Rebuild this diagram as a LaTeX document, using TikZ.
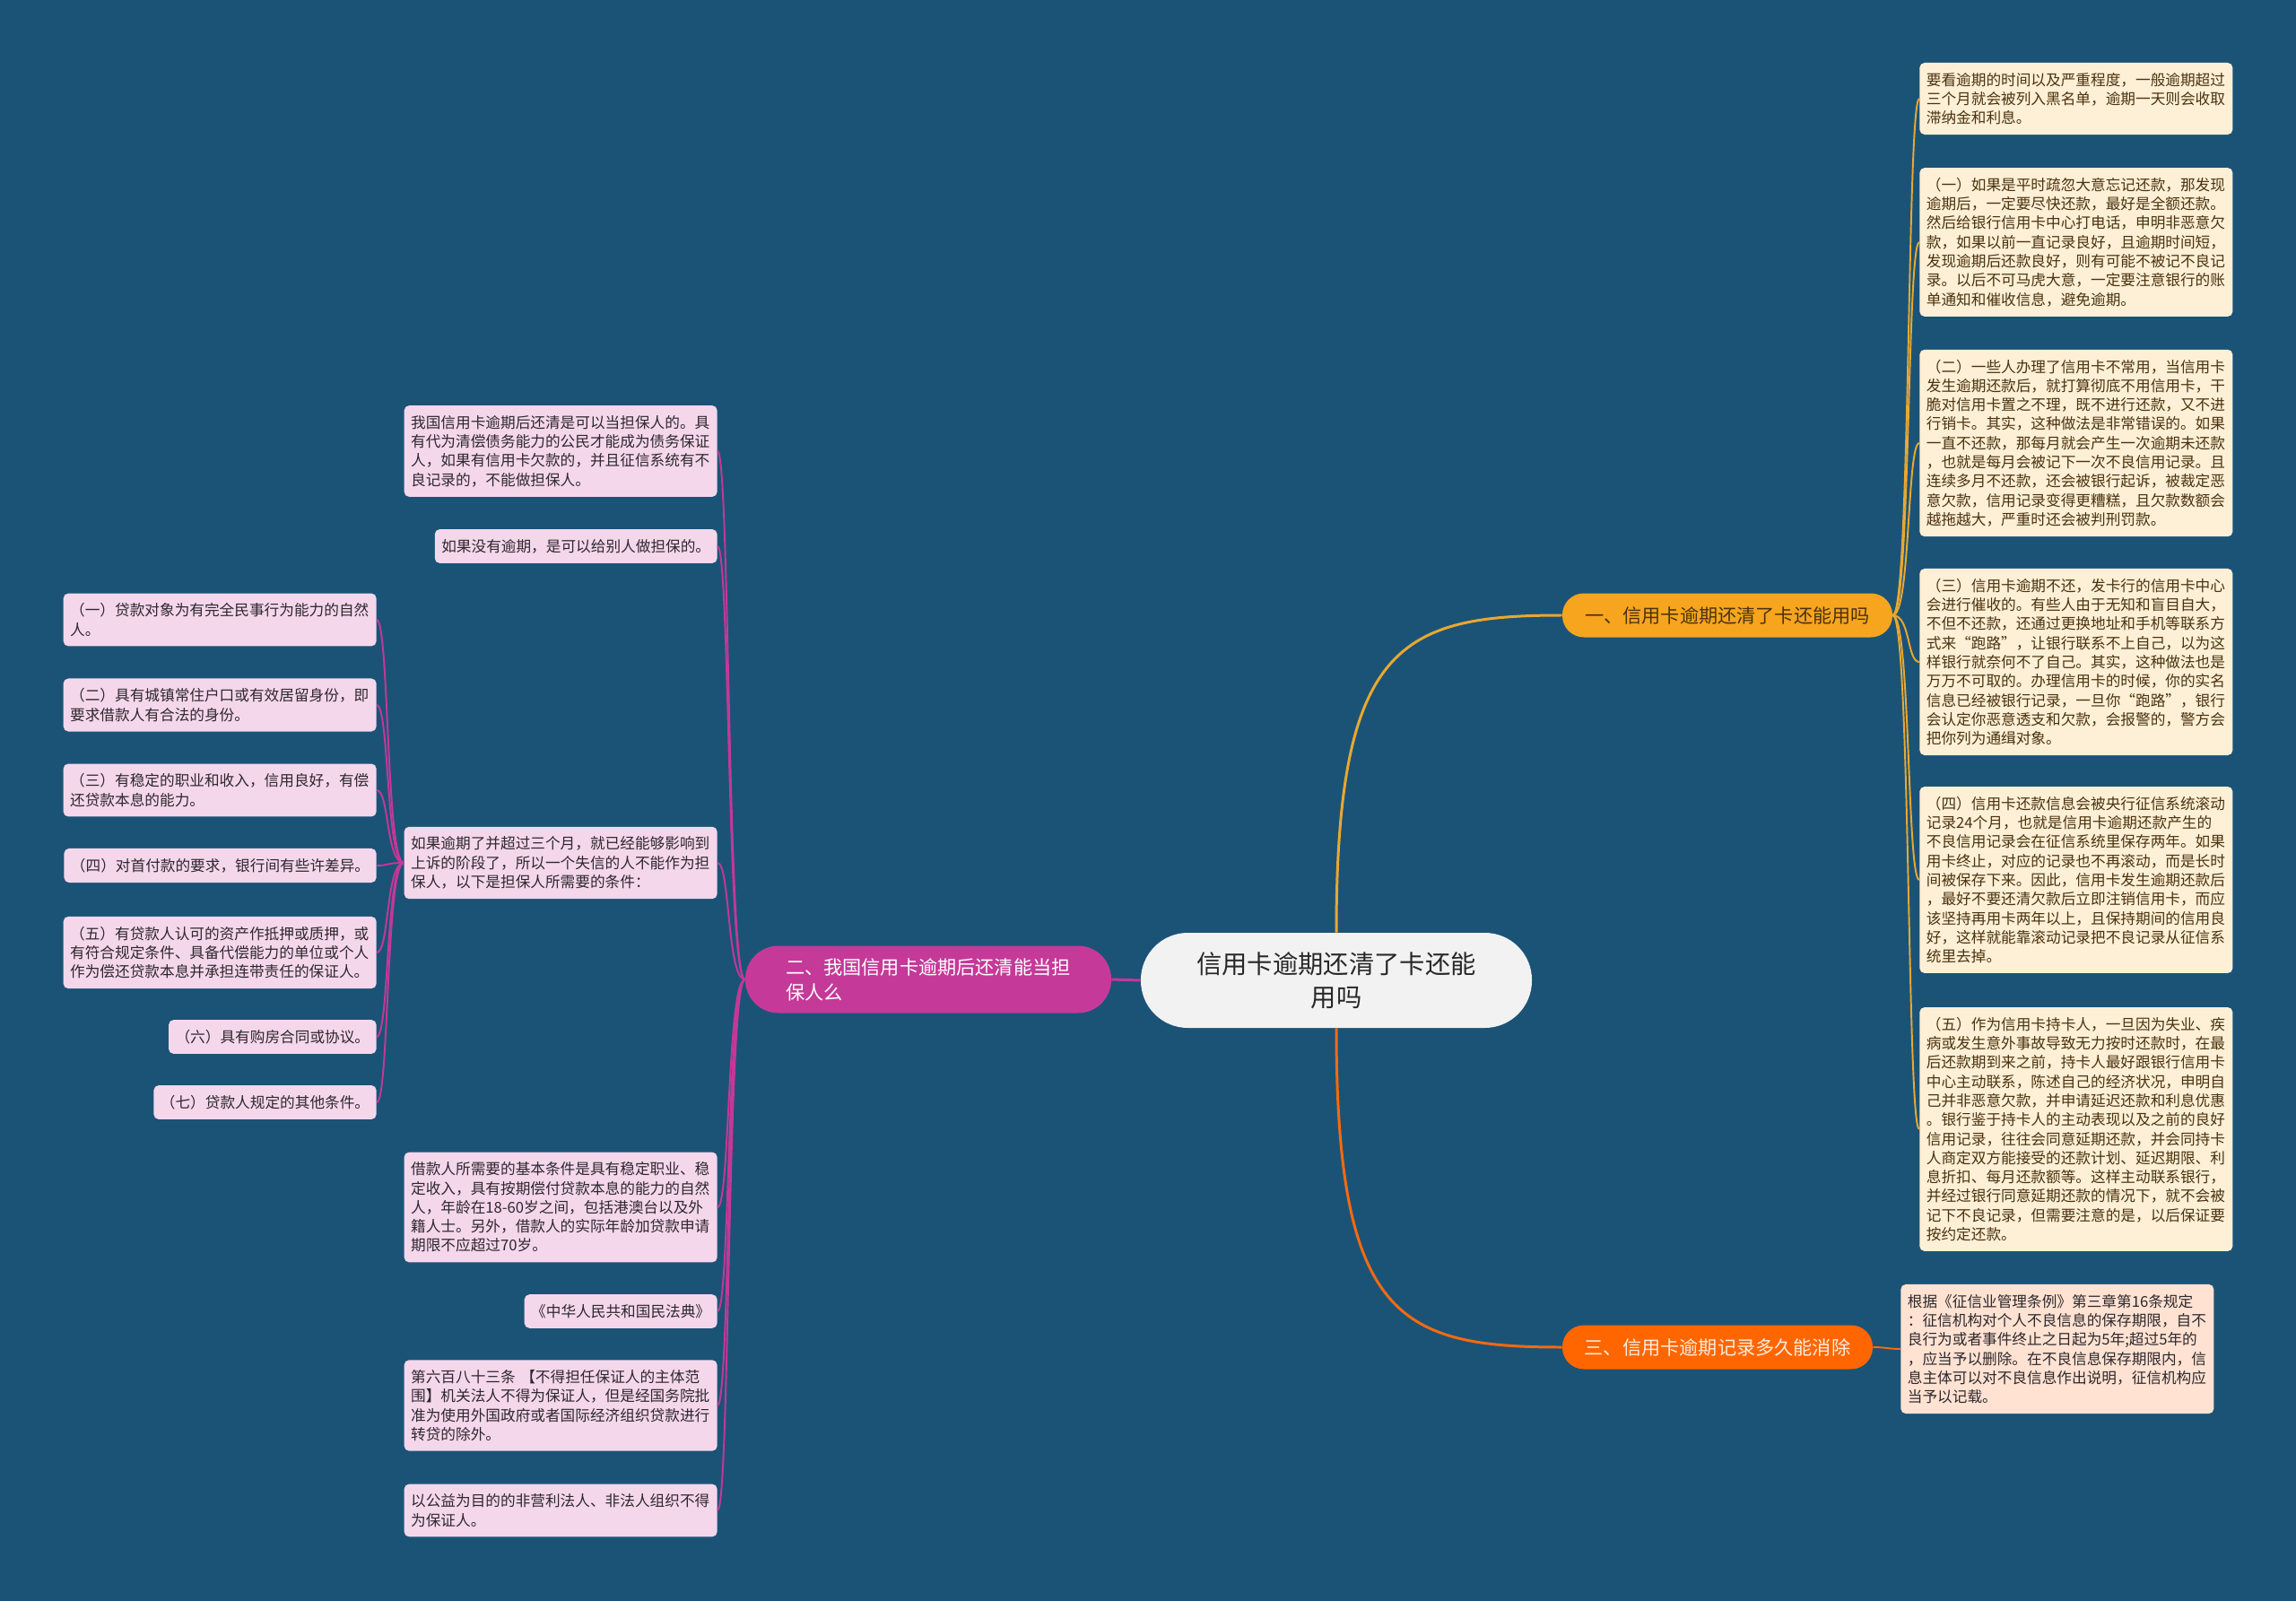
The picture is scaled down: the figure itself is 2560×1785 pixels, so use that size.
\documentclass[tikz,border=0pt]{standalone}
\usepackage{fontspec}
\newfontfamily\cjk{Noto Sans CJK SC}
\usepackage{tikz}
\definecolor{bgblue}{RGB}{27,83,119}
\definecolor{pinkleaf}{RGB}{245,215,236}
\definecolor{creamleaf}{RGB}{253,240,214}
\definecolor{peachleaf}{RGB}{255,226,210}
\definecolor{goldline}{RGB}{232,168,48}
\definecolor{magline}{RGB}{196,56,152}
\definecolor{orangeline}{RGB}{246,106,16}
\definecolor{topicgray}{RGB}{242,242,242}
\definecolor{goldfill}{RGB}{247,165,30}
\definecolor{orangefill}{RGB}{255,102,0}
\definecolor{magfill}{RGB}{197,57,153}
\definecolor{leaftext}{RGB}{45,40,45}
\definecolor{browntext}{RGB}{75,50,15}

\begin{document}
\begin{tikzpicture}[x=0.2mm, y=-0.2mm,
    leaf/.style={rounded corners=1.1mm, inner xsep=1.5mm, inner ysep=2.2mm,
      font=\cjk\fontsize{9.48}{12.12}\selectfont, align=left},
    wide/.style={text width=66.8mm},
    pinkbox/.style={leaf, fill=pinkleaf, text=leaftext, anchor=east},
    creambox/.style={leaf, fill=creamleaf, text=browntext, anchor=west},
    peachbox/.style={leaf, fill=peachleaf, text=leaftext, anchor=west},
    branch/.style={rounded corners=4.8mm, minimum height=9.8mm, inner sep=0pt,
      font=\cjk\fontsize{12.05}{15.9}\selectfont},
    goldlink/.style={draw=goldline, line width=1.1pt},
    maglink/.style={draw=magline, line width=1.1pt},
    orangelink/.style={draw=orangeline, line width=1.1pt}]
          \useasboundingbox (0,0) rectangle (2560,1785);
          \fill[bgblue] (0,0) rectangle (2560,1785);

          % centre and main branches
          \node[fill=topicgray, text={rgb,255:red,40;green,40;blue,40}, rounded corners=10.5mm,
            minimum width=87.2mm, minimum height=21.2mm, align=center,
            font=\cjk\fontsize{16.1}{21.3}\selectfont] (topic) at (1490,1093)
            {信用卡逾期还清了卡还能\\用吗};
          \node[branch, fill=goldfill, text=browntext, minimum width=73.6mm] (one) at (1926,686)
            {一、信用卡逾期还清了卡还能用吗};
          \node[branch, fill=magfill, text=white, minimum width=81.6mm, minimum height=15mm,
            rounded corners=7.4mm, align=left, text width=63.6mm] (two) at (1035,1092)
            {二、我国信用卡逾期后还清能当担\\保人么};
          \node[branch, fill=orangefill, text={rgb,255:red,255;green,236;blue,222},
            minimum width=69.2mm] (three) at (1915,1502)
            {三、信用卡逾期记录多久能消除};

          % branch one
          \node[creambox, wide] (r0) at (2140,110)
            {要看逾期的时间以及严重程度，一般逾期超过\\三个月就会被列入黑名单，逾期一天则会收取\\滞纳金和利息。};
          \node[creambox, wide] (r1) at (2140,270)
            {（一）如果是平时疏忽大意忘记还款，那发现\\逾期后，一定要尽快还款，最好是全额还款。\\然后给银行信用卡中心打电话，申明非恶意欠\\款，如果以前一直记录良好，且逾期时间短，\\发现逾期后还款良好，则有可能不被记不良记\\录。以后不可马虎大意，一定要注意银行的账\\单通知和催收信息，避免逾期。};
          \node[creambox, wide] (r2) at (2140,494)
            {（二）一些人办理了信用卡不常用，当信用卡\\发生逾期还款后，就打算彻底不用信用卡，干\\脆对信用卡置之不理，既不进行还款，又不进\\行销卡。其实，这种做法是非常错误的。如果\\一直不还款，那每月就会产生一次逾期未还款\\，也就是每月会被记下一次不良信用记录。且\\连续多月不还款，还会被银行起诉，被裁定恶\\意欠款，信用记录变得更糟糕，且欠款数额会\\越拖越大，严重时还会被判刑罚款。};
          \node[creambox, wide] (r3) at (2140,738)
            {（三）信用卡逾期不还，发卡行的信用卡中心\\会进行催收的。有些人由于无知和盲目自大，\\不但不还款，还通过更换地址和手机等联系方\\式来“跑路”，让银行联系不上自己，以为这\\样银行就奈何不了自己。其实，这种做法也是\\万万不可取的。办理信用卡的时候，你的实名\\信息已经被银行记录，一旦你“跑路”，银行\\会认定你恶意透支和欠款，会报警的，警方会\\把你列为通缉对象。};
          \node[creambox, wide] (r4) at (2140,981)
            {（四）信用卡还款信息会被央行征信系统滚动\\记录24个月，也就是信用卡逾期还款产生的\\不良信用记录会在征信系统里保存两年。如果\\用卡终止，对应的记录也不再滚动，而是长时\\间被保存下来。因此，信用卡发生逾期还款后\\，最好不要还清欠款后立即注销信用卡，而应\\该坚持再用卡两年以上，且保持期间的信用良\\好，这样就能靠滚动记录把不良记录从征信系\\统里去掉。};
          \node[creambox, wide] (r5) at (2140,1259)
            {（五）作为信用卡持卡人，一旦因为失业、疾\\病或发生意外事故导致无力按时还款时，在最\\后还款期到来之前，持卡人最好跟银行信用卡\\中心主动联系，陈述自己的经济状况，申明自\\己并非恶意欠款，并申请延迟还款和利息优惠\\。银行鉴于持卡人的主动表现以及之前的良好\\信用记录，往往会同意延期还款，并会同持卡\\人商定双方能接受的还款计划、延迟期限、利\\息折扣、每月还款额等。这样主动联系银行，\\并经过银行同意延期还款的情况下，就不会被\\记下不良记录，但需要注意的是，以后保证要\\按约定还款。};

          % branch three
          \node[peachbox, wide] (r6) at (2119,1504)
            {根据《征信业管理条例》第三章第16条规定\\：征信机构对个人不良信息的保存期限，自不\\良行为或者事件终止之日起为5年;超过5年的\\，应当予以删除。在不良信息保存期限内，信\\息主体可以对不良信息作出说明，征信机构应\\当予以记载。};

          % branch two
          \node[pinkbox, wide] (m1) at (800,503)
            {我国信用卡逾期后还清是可以当担保人的。具\\有代为清偿债务能力的公民才能成为债务保证\\人，如果有信用卡欠款的，并且征信系统有不\\良记录的，不能做担保人。};
          \node[pinkbox] (m2) at (800,609)
            {如果没有逾期，是可以给别人做担保的。};
          \node[pinkbox, wide] (m3) at (800,962)
            {如果逾期了并超过三个月，就已经能够影响到\\上诉的阶段了，所以一个失信的人不能作为担\\保人，以下是担保人所需要的条件：};
          \node[pinkbox, wide] (m4) at (800,1346)
            {借款人所需要的基本条件是具有稳定职业、稳\\定收入，具有按期偿付贷款本息的能力的自然\\人，年龄在18-60岁之间，包括港澳台以及外\\籍人士。另外，借款人的实际年龄加贷款申请\\期限不应超过70岁。};
          \node[pinkbox] (m5) at (800,1462)
            {《中华人民共和国民法典》};
          \node[pinkbox, wide] (m6) at (800,1567)
            {第六百八十三条 【不得担任保证人的主体范\\围】机关法人不得为保证人，但是经国务院批\\准为使用外国政府或者国际经济组织贷款进行\\转贷的除外。};
          \node[pinkbox, wide] (m7) at (800,1684)
            {以公益为目的的非营利法人、非法人组织不得\\为保证人。};

          % conditions under m3
          \node[pinkbox, wide] (l1) at (420,691)
            {（一）贷款对象为有完全民事行为能力的自然\\人。};
          \node[pinkbox, wide] (l2) at (420,786)
            {（二）具有城镇常住户口或有效居留身份，即\\要求借款人有合法的身份。};
          \node[pinkbox, wide] (l3) at (420,881)
            {（三）有稳定的职业和收入，信用良好，有偿\\还贷款本息的能力。};
          \node[pinkbox] (l4) at (420,965)
            {（四）对首付款的要求，银行间有些许差异。};
          \node[pinkbox, wide] (l5) at (420,1062)
            {（五）有贷款人认可的资产作抵押或质押，或\\有符合规定条件、具备代偿能力的单位或个人\\作为偿还贷款本息并承担连带责任的保证人。};
          \node[pinkbox] (l6) at (420,1156)
            {（六）具有购房合同或协议。};
          \node[pinkbox] (l7) at (420,1229)
            {（七）贷款人规定的其他条件。};

          % connectors
          \draw[goldlink, line width=1.7pt] (topic.north) .. controls (1490,720) and (1560,686) .. (one.west);
          \draw[orangelink, line width=1.7pt] (topic.south) .. controls (1490,1470) and (1560,1502) .. (three.west);
          \draw[maglink, line width=1.7pt] (topic.west) -- (two.east);
          \foreach \n in {r0,r1,r2,r3,r4,r5}
            \draw[goldlink] (one.east) .. controls +(20,0) and +(-14,0) .. (\n.west);
          \draw[orangelink] (three.east) .. controls +(14,0) and +(-14,0) .. (r6.west);
          \foreach \n in {m1,m2,m3,m4,m5,m6,m7}
            \draw[maglink] (two.west) .. controls +(-20,0) and +(14,0) .. (\n.east);
          \foreach \n in {l1,l2,l3,l4,l5,l6,l7}
            \draw[maglink] (m3.west) .. controls +(-20,0) and +(14,0) .. (\n.east);
        \end{tikzpicture}
\end{document}
